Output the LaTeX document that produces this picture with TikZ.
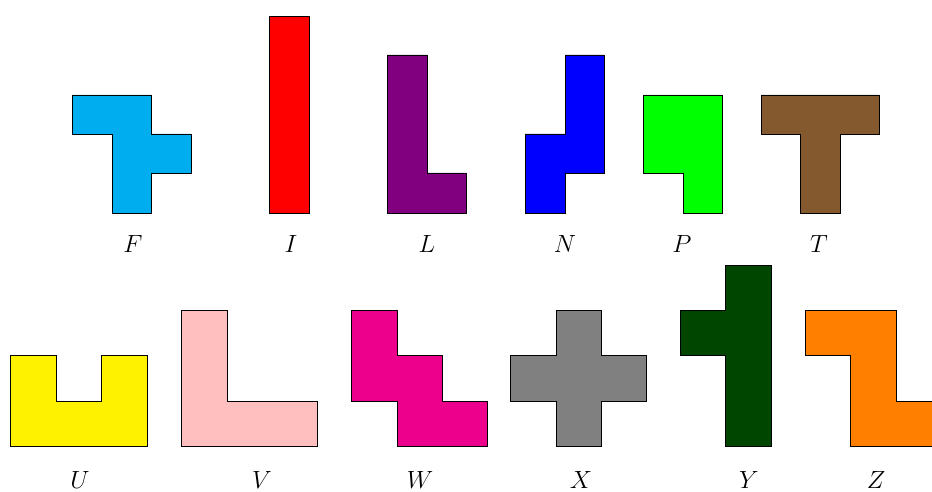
\documentclass[tikz,border=0pt]{standalone}
\usepackage{tikz}
\definecolor{pcyan}{RGB}{0,174,239}
\definecolor{pred}{RGB}{255,0,0}
\definecolor{ppurple}{RGB}{128,0,128}
\definecolor{pblue}{RGB}{0,0,255}
\definecolor{pgreen}{RGB}{0,255,0}
\definecolor{pbrown}{RGB}{133,89,46}
\definecolor{pyellow}{RGB}{255,242,0}
\definecolor{ppink}{RGB}{255,191,191}
\definecolor{pmagenta}{RGB}{236,0,140}
\definecolor{pgray}{RGB}{128,128,128}
\definecolor{pdgreen}{RGB}{0,70,0}
\definecolor{porange}{RGB}{255,128,0}
\tikzset{
  piece/.style={draw=black, line width=0.6pt, line join=miter},
  plabel/.style={inner sep=0pt, anchor=base, font=\fontsize{29}{31}\selectfont}
}
\begin{document}
\begin{tikzpicture}[x=1pt,y=-1pt]
\useasboundingbox (0,0) rectangle (932,492);
% top row
\filldraw[piece, fill=pcyan] (72,95)--(151,95)--(151,134)--(191,134)--(191,173)--(151,173)--(151,213)--(112,213)--(112,134)--(72,134)--cycle;
\filldraw[piece, fill=pred] (269,16)--(309,16)--(309,213)--(269,213)--cycle;
\filldraw[piece, fill=ppurple] (387,55)--(427,55)--(427,173)--(466,173)--(466,213)--(387,213)--cycle;
\filldraw[piece, fill=pblue] (565,55)--(604,55)--(604,173)--(565,173)--(565,213)--(525,213)--(525,134)--(565,134)--cycle;
\filldraw[piece, fill=pgreen] (643,95)--(722,95)--(722,213)--(683,213)--(683,173)--(643,173)--cycle;
\filldraw[piece, fill=pbrown] (761,95)--(879,95)--(879,134)--(840,134)--(840,213)--(800,213)--(800,134)--(761,134)--cycle;
\node[plabel] (lF) at (133,252) {$F$};
\node[plabel] (lI) at (291,252) {$I$};
\node[plabel] (lL) at (427,252) {$L$};
\node[plabel] (lN) at (565,252) {$N$};
\node[plabel] (lP) at (682,252) {$P$};
\node[plabel] (lT) at (819,252) {$T$};
% bottom row
\filldraw[piece, fill=pyellow] (10,355)--(56,355)--(56,401)--(101,401)--(101,355)--(147,355)--(147,446)--(10,446)--cycle;
\filldraw[piece, fill=ppink] (181,310)--(227,310)--(227,401)--(317,401)--(317,446)--(181,446)--cycle;
\filldraw[piece, fill=pmagenta] (351,310)--(397,310)--(397,355)--(442,355)--(442,401)--(487,401)--(487,446)--(397,446)--(397,401)--(351,401)--cycle;
\filldraw[piece, fill=pgray] (556,310)--(601,310)--(601,355)--(646,355)--(646,401)--(601,401)--(601,446)--(556,446)--(556,401)--(510,401)--(510,355)--(556,355)--cycle;
\filldraw[piece, fill=pdgreen] (725,265)--(771,265)--(771,446)--(725,446)--(725,355)--(680,355)--(680,310)--(725,310)--cycle;
\filldraw[piece, fill=porange] (805,310)--(896,310)--(896,401)--(941,401)--(941,446)--(850,446)--(850,355)--(805,355)--cycle;
\node[plabel] (lU) at (80,488) {$U$};
\node[plabel] (lV) at (262,488) {$V$};
\node[plabel] (lW) at (420,488) {$W$};
\node[plabel] (lX) at (581,488) {$X$};
\node[plabel] (lY) at (749,488) {$Y$};
\node[plabel] (lZ) at (876,488) {$Z$};
\end{tikzpicture}
\end{document}
